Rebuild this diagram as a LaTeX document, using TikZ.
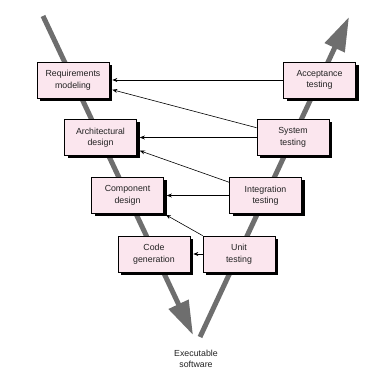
\documentclass[tikz,border=0pt]{standalone}
\usepackage{fontspec}
\setmainfont{Liberation Sans}
\usetikzlibrary{arrows.meta, positioning, calc, shadows}
\definecolor{vGray}{HTML}{6E6E6E}
\definecolor{boxPink}{HTML}{FBE6EE}
\definecolor{textDark}{HTML}{222222}
\tikzset{
  vArrow/.style={-{Triangle[length=34pt,width=21pt]}, vGray, line width=5pt},
  backArrow/.style={-{Stealth[length=5pt,width=4pt]}, black, line width=0.6pt},
  phaseBox/.style={rectangle, draw=black, line width=0.7pt, fill=boxPink,
                   minimum width=72pt, minimum height=36pt, inner sep=2pt,
                   align=center, text=textDark, font=\fontsize{8.8}{11.5}\selectfont,
                   drop shadow={shadow xshift=3pt, shadow yshift=-3pt,
                                fill=black, opacity=1}},
}
\begin{document}
\begin{tikzpicture}[x=1pt, y=-1pt]
  \useasboundingbox (0,0) rectangle (381,377);
  % the two legs of the V
  \coordinate (leftTop) at (43,16);
  \coordinate (leftTip) at (193,335);
  \coordinate (rightFoot) at (200,337);
  \coordinate (rightTip) at (349,17);
  \draw[vArrow] (leftTop) -- (leftTip);
  \draw[vArrow] (rightFoot) -- (rightTip);
  % left leg
  \node[phaseBox] (req)  at (73,80)      {Requirements\\modeling};
  \node[phaseBox] (arch) at (100.5,137.5) {Architectural\\design};
  \node[phaseBox] (comp) at (127.5,195.5) {Component\\design};
  \node[phaseBox] (code) at (154,254)    {Code\\generation};
  % right leg
  \node[phaseBox] (acc)   at (319.5,80)   {Acceptance\\testing};
  \node[phaseBox] (sys)   at (293,137.5)  {System\\testing};
  \node[phaseBox] (integ) at (265.5,195.5) {Integration\\testing};
  \node[phaseBox] (unit)  at (239,254)    {Unit\\testing};
  \node[align=center, text=textDark, font=\fontsize{8.8}{11.5}\selectfont]
    (exe) at (196,359) {Executable\\software};
  % links back to the left leg (tips stop at the shadow edge)
  \draw[backArrow] (acc.west) -- ([xshift=3pt]req.east);
  \draw[backArrow] (sys.165) -- ([xshift=3pt]req.-15);
  \draw[backArrow] (sys.west) -- ([xshift=3pt]arch.east);
  \draw[backArrow] (integ.160) -- ([xshift=3pt]arch.-20);
  \draw[backArrow] (integ.west) -- ([xshift=3pt]comp.east);
  \draw[backArrow] (unit.north west) -- ([shift={(2pt,-1pt)}]comp.south east);
  \draw[backArrow] (unit.west) -- ([xshift=3pt]code.east);
\end{tikzpicture}
\end{document}
